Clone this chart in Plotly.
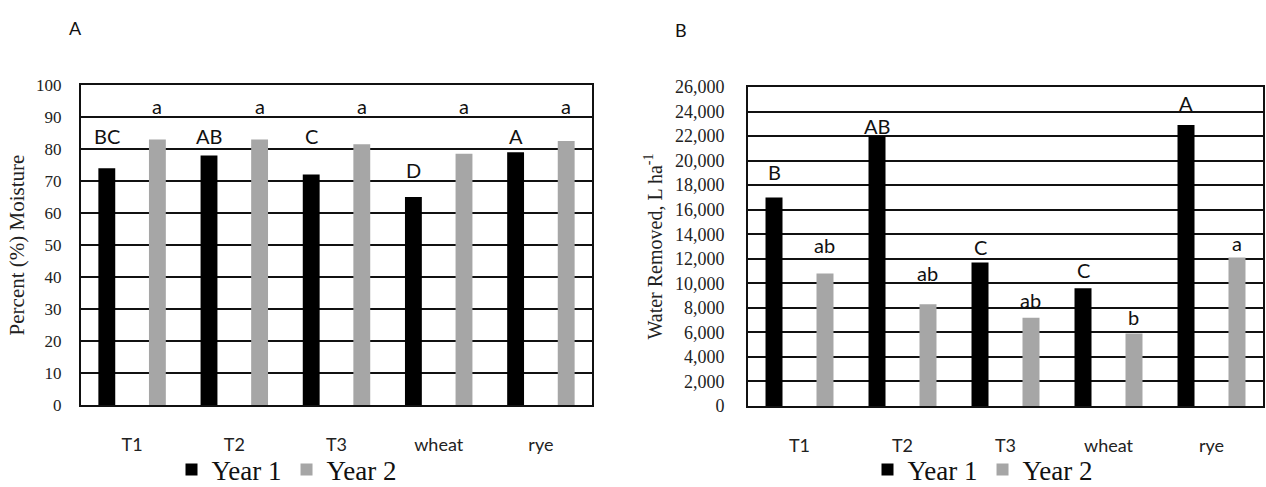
import plotly.graph_objects as go

# ---------------- data ----------------
categories = ["T1", "T2", "T3", "wheat", "rye"]

moist_year1 = [74, 78, 72, 65, 79]
moist_year2 = [83, 83, 81.5, 78.5, 82.5]
moist_year1_letters = ["BC", "AB", "C", "D", "A"]
moist_year2_letters = ["a", "a", "a", "a", "a"]
moist_year1_label_y = [84, 84, 84, 73.5, 84]
moist_year2_label_y = [93.5, 93.5, 93.5, 93.5, 93.5]

water_year1 = [17000, 22000, 11700, 9600, 22900]
water_year2 = [10800, 8300, 7200, 5900, 12100]
water_year1_letters = ["B", "AB", "C", "C", "A"]
water_year2_letters = ["ab", "ab", "ab", "b", "a"]
water_year1_label_y = [19100, 22800, 13000, 11100, 24700]
water_year2_label_y = [13100, 10800, 8600, 7250, 13300]

series_names = ["Year 1", "Year 2"]
colors = ["#000000", "#a6a6a6"]

SERIF = "Liberation Serif"
SANS = "Lato"

BAR_W = 0.165
OFFS = [-0.33, 0.165]

fig = go.Figure()

panels = [
    ("x", "y", "legend", [moist_year1, moist_year2]),
    ("x2", "y2", "legend2", [water_year1, water_year2]),
]
for xa, ya, lg, vals in panels:
    for k in range(2):
        fig.add_trace(go.Bar(
            x=categories, y=vals[k], name=series_names[k],
            marker=dict(color=colors[k], line=dict(width=0)),
            width=BAR_W, offset=OFFS[k],
            xaxis=xa, yaxis=ya, legend=lg, hoverinfo="skip",
        ))

annotations = []
label_sets = [
    ("x", "y", moist_year1_letters, moist_year1_label_y, 0),
    ("x", "y", moist_year2_letters, moist_year2_label_y, 1),
    ("x2", "y2", water_year1_letters, water_year1_label_y, 0),
    ("x2", "y2", water_year2_letters, water_year2_label_y, 1),
]
for xa, ya, letters, ys, k in label_sets:
    for i, (t, yv) in enumerate(zip(letters, ys)):
        annotations.append(dict(
            x=i + OFFS[k] + BAR_W / 2, y=yv, xref=xa, yref=ya, text=t,
            showarrow=False, xanchor="center", yanchor="middle",
            font=dict(family=SANS, size=20, color="#111111"),
        ))

# panel letters
annotations.append(dict(x=75 / 1266, y=1 - 28 / 487, xref="paper", yref="paper",
                        text="A", showarrow=False, xanchor="center", yanchor="middle",
                        font=dict(family=SANS, size=18, color="#111111")))
annotations.append(dict(x=681 / 1266, y=1 - 30 / 487, xref="paper", yref="paper",
                        text="B", showarrow=False, xanchor="center", yanchor="middle",
                        font=dict(family=SANS, size=18, color="#111111")))

axis_common = dict(showline=True, linecolor="#111111", linewidth=2, mirror=True,
                   zeroline=False, ticks="", automargin=False)

fig.update_layout(
    template="none",
    width=1266, height=487,
    margin=dict(l=0, r=0, t=0, b=0, autoexpand=False),
    paper_bgcolor="white", plot_bgcolor="white",
    barmode="group",
    showlegend=True,
    annotations=annotations,
    xaxis=dict(domain=[81 / 1266, 592 / 1266], anchor="y", showgrid=False,
               tickfont=dict(family=SANS, size=18, color="#222222"),
               ticklabelstandoff=22, **axis_common),
    yaxis=dict(domain=[82 / 487, 402 / 487], anchor="x", range=[0, 100], dtick=10,
               showgrid=True, gridcolor="#111111", gridwidth=2,
               tickfont=dict(family=SERIF, size=17, color="#222222"),
               ticklabelstandoff=14,
               title=dict(text="Percent (%) Moisture", standoff=6,
                          font=dict(family=SERIF, size=21, color="#222222")),
               **axis_common),
    xaxis2=dict(domain=[748 / 1266, 1263 / 1266], anchor="y2", showgrid=False,
                tickfont=dict(family=SANS, size=18, color="#222222"),
                ticklabelstandoff=22, **axis_common),
    yaxis2=dict(domain=[81 / 487, 400 / 487], anchor="x2", range=[0, 26000], dtick=2000,
                tickformat=",d",
                showgrid=True, gridcolor="#111111", gridwidth=2,
                tickfont=dict(family=SERIF, size=18, color="#222222"),
                ticklabelstandoff=18,
                title=dict(text="Water Removed, L ha<sup>-1</sup>", standoff=7,
                           font=dict(family=SERIF, size=20, color="#222222")),
                **axis_common),
    legend=dict(orientation="h", x=287 / 1266, y=17 / 487, xanchor="center", yanchor="middle",
                font=dict(family=SERIF, size=27, color="#111111"), itemwidth=30,
                bgcolor="rgba(0,0,0,0)"),
    legend2=dict(orientation="h", x=983 / 1266, y=17 / 487, xanchor="center", yanchor="middle",
                 font=dict(family=SERIF, size=27, color="#111111"), itemwidth=30,
                 bgcolor="rgba(0,0,0,0)"),
)

fig.write_html("out.html")
